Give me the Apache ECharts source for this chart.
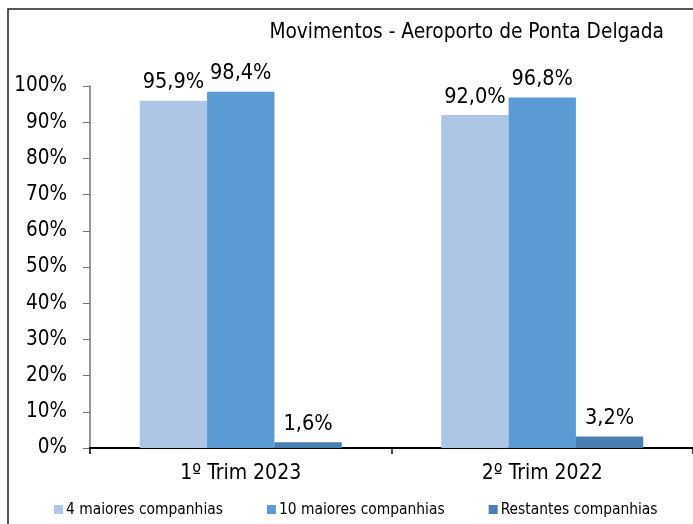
<!DOCTYPE html>
<html>
<head>
<meta charset="utf-8">
<script src="https://cdn.jsdelivr.net/npm/echarts@6/dist/echarts.min.js"></script>
<style>
  html, body { margin: 0; padding: 0; background: #fff; }
  #chart { width: 693px; height: 524px; }
</style>
</head>
<body>
<div id="chart"></div>
<script>
// Quarters compared
const categories = ['1º Trim 2023', '2º Trim 2022'];
// Share of movements (%)
const top4 = [95.9, 92.0];
const top10 = [98.4, 96.8];
const others = [1.6, 3.2];
const seriesNames = ['4 maiores companhias', '10 maiores companhias', 'Restantes companhias'];

const FONT = 'DejaVu Sans Condensed';
const fmt = p => p.value.toFixed(1).replace('.', ',') + '%';

const chart = echarts.init(document.getElementById('chart'), null, { renderer: 'canvas' });

function barSeries(name, data, color) {
  return {
    name: name,
    type: 'bar',
    data: data,
    barGap: '0%',
    barCategoryGap: '33%',
    itemStyle: { color: color },
    label: {
      show: true,
      position: 'top',
      distance: 7,
      formatter: fmt,
      color: '#000',
      fontFamily: FONT,
      fontSize: 21.5
    }
  };
}

chart.setOption({
  animation: false,
  backgroundColor: '#fff',
  textStyle: { fontFamily: FONT },
  graphic: [{
    type: 'rect',
    shape: { x: 8, y: 9, width: 720, height: 540 },
    style: { fill: 'none', stroke: '#222', lineWidth: 1.5 },
    z: 100
  }],
  title: {
    text: 'Movimentos - Aeroporto de Ponta Delgada',
    right: 24,
    top: 17,
    textStyle: { fontFamily: FONT, fontSize: 20.7, fontWeight: 'normal', color: '#000' }
  },
  legend: {
    data: seriesNames,
    left: 54,
    top: 502,
    padding: 0,
    icon: 'rect',
    itemWidth: 9,
    itemHeight: 9,
    itemGap: 44,
    textStyle: { fontFamily: FONT, fontSize: 15.4, color: '#000', padding: [0, 0, 0, -2] }
  },
  grid: { left: 90, top: 86, width: 607, height: 362, containLabel: false },
  xAxis: {
    type: 'category',
    data: categories,
    axisLine: { lineStyle: { color: '#000', width: 2 } },
    axisTick: { show: true, length: 6, lineStyle: { color: '#000', width: 1.5 } },
    axisLabel: { fontFamily: FONT, fontSize: 21, color: '#000', margin: 15 }
  },
  yAxis: {
    type: 'value',
    min: 0,
    max: 100,
    interval: 10,
    axisLine: { show: true, lineStyle: { color: '#777', width: 1.5 } },
    axisTick: { show: true, length: 7, lineStyle: { color: '#777' } },
    splitLine: { show: false },
    axisLabel: { formatter: '{value}%', fontFamily: FONT, fontSize: 20.5, color: '#000', margin: 23 }
  },
  series: [
    barSeries(seriesNames[0], top4, '#adc6e5'),
    barSeries(seriesNames[1], top10, '#5b9bd5'),
    barSeries(seriesNames[2], others, '#4a7fb4')
  ]
});
</script>
</body>
</html>
